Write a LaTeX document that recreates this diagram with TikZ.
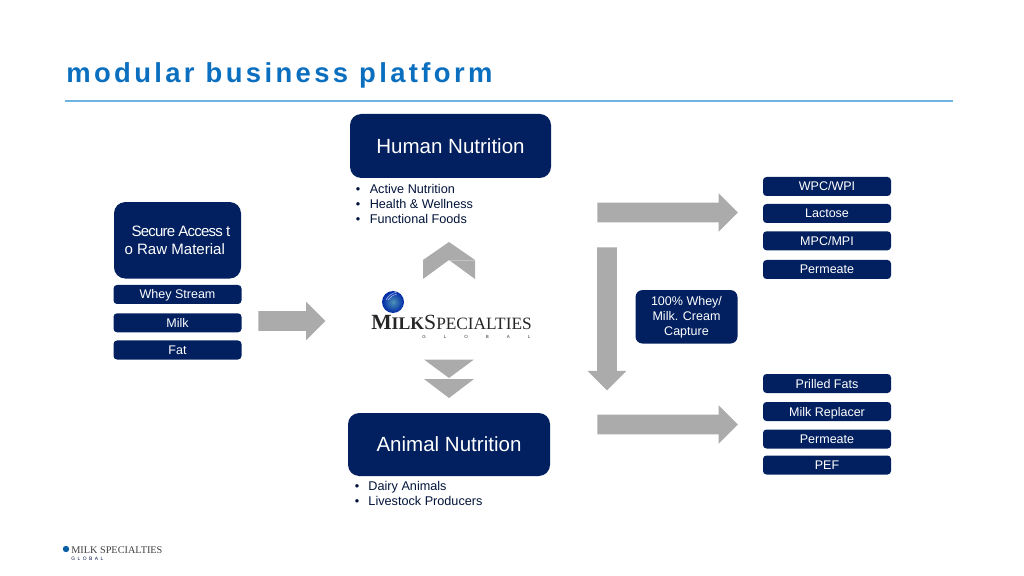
\documentclass[tikz,border=0pt]{standalone}
\usepackage{fontspec}
\setmainfont{Liberation Sans}
\newfontfamily\titlefont[LetterSpace=12.3]{Liberation Sans}
\newfontfamily\logofont{Liberation Serif}
\newfontfamily\wideglobal[LetterSpace=400]{Liberation Sans}
\newfontfamily\smallglobal[LetterSpace=50]{Liberation Sans}
\usepackage{xcolor}
\usetikzlibrary{shapes.arrows}
\definecolor{navybox}{HTML}{02205F}
\definecolor{titleblue}{HTML}{0B6FC0}
\definecolor{ruleblue}{RGB}{110,180,225}
\definecolor{arrowgray}{HTML}{ABABAB}
\def\px{0.025cm}
\tikzset{
    bigbox/.style={fill=navybox, text=white, rounded corners=8pt, inner sep=0pt, font=\fontsize{14.6}{17}\selectfont},
    smallbox/.style={fill=navybox, text=white, rounded corners=2.5pt, inner sep=0pt, minimum width=128*\px, minimum height=19*\px, text height=6.4pt, text depth=0pt, font=\fontsize{8.9}{10}\selectfont},
    bulletlist/.style={anchor=north west, inner sep=0pt, align=left, text=navybox!60!black, font=\fontsize{9}{10.67}\selectfont},
    blockarrow/.style={single arrow, fill=arrowgray, inner xsep=0pt, inner ysep=9.5*\px, minimum width=38*\px, single arrow head extend=9.5*\px, single arrow tip angle=90, anchor=tail}
}

\begin{document}
\begin{tikzpicture}[x=0.025cm, y=-0.025cm]
    \useasboundingbox (0,0) rectangle (1024,576);

    % Title and rule
    \node[anchor=base west, inner sep=0pt, text=titleblue, font=\fontsize{19.5}{26}\selectfont\titlefont\bfseries] (title) at (66,83) {modular business platform};
    \fill[ruleblue] (65,100.5) rectangle (953,101.7);

    % Main boxes
    \node[bigbox, minimum width=201*\px, minimum height=64*\px] (human) at (450.5,146) {Human Nutrition};
    \node[bigbox, minimum width=202*\px, minimum height=63*\px] (animal) at (449,444.5) {Animal Nutrition};
    \node[bigbox, minimum width=127*\px, minimum height=76.5*\px, align=left, font=\fontsize{10.7}{12.8}\selectfont] (secure) at (177.5,240.3) {\hspace{5pt}{\addfontfeature{LetterSpace=-5.5}Secure Access t}\\o Raw Material};
    \node[bigbox, minimum width=102*\px, minimum height=53.5*\px, rounded corners=5pt, align=center, font=\fontsize{8.9}{10.67}\selectfont] (capture) at (686.5,316.8) {100\% Whey/\\Milk. Cream\\Capture};

    % Small boxes
    \foreach \boxname/\x/\y/\boxtext in {whey/177.5/294.5/Whey Stream, milk/177.5/322.8/Milk, fat/177.5/350/Fat,
        wpc/827/186.5/WPC\slash WPI, lactose/827/213.5/Lactose, mpc/827/240.8/MPC\slash MPI, permA/827/269.5/Permeate,
        prilled/827/383.5/Prilled Fats, replacer/827/411.5/Milk Replacer, permB/827/439/Permeate, pef/827/465/PEF} {
        \node[smallbox] (\boxname) at (\x,\y) {\boxtext};
    }

    % Bullet lists
    \node[bulletlist] (humanlist) at (355.5,184) {\textbullet\hspace{6.8pt}Active Nutrition\\\textbullet\hspace{6.8pt}Health \& Wellness\\\textbullet\hspace{6.8pt}Functional Foods};
    \node[bulletlist] (animallist) at (354.5,481) {\textbullet\hspace{6.6pt}Dairy Animals\\\textbullet\hspace{6.6pt}Livestock Producers};

    % Block arrows
    \node[blockarrow, minimum height=67*\px] (inarrow) at (258,321) {};
    \node[blockarrow, minimum height=140.5*\px] (toparrow) at (597,212.5) {};
    \node[blockarrow, minimum height=143*\px, rotate=-90] (downarrow) at (607,247) {};
    \node[blockarrow, minimum height=140.5*\px] (botarrow) at (597,424.5) {};

    % Chevrons around the logo
    \fill[arrowgray] (449,242) -- (475,260) -- (475,279) -- (449,260) -- (423,279) -- (423,260) -- cycle;
    \draw[arrowgray!70!white, line width=0.3pt] (449,260) -- (475,260);
    \fill[arrowgray] (424,359.5) -- (474,359.5) -- (449,378) -- cycle;
    \fill[arrowgray] (424,379) -- (474,379) -- (449,398) -- cycle;

    % Centre logo
    \shade[inner color=blue!35!cyan!60!black!70!white, outer color=blue!75!cyan!65!black, shading=radial] (393,302) circle (11);
    \draw[white!75!blue, line width=0.3pt] (386,300) .. controls (388,296) and (392,293) .. (397,292);
    \draw[white!75!blue, line width=0.3pt] (388,300) .. controls (390,297) and (393,295) .. (397,294);
    \node[anchor=base west, inner sep=0pt, text=black!85, font=\logofont] (logotext) at (371,330) {\bfseries\fontsize{15.4}{16}\selectfont M\fontsize{12.6}{16}\selectfont ILK\mdseries\fontsize{15.4}{16}\selectfont S\fontsize{12.3}{16}\selectfont PECIALTIES};
    \node[anchor=base west, inner sep=0pt, text=black!80, font=\fontsize{3.2}{4}\selectfont\wideglobal] (logoglobal) at (422,338.5) {GLOBAL};

    % Footer logo
    \fill[titleblue!85!black] (66,549) circle (3.2) coordinate (football);
    \node[anchor=base west, inner sep=0pt, text=black!75, font=\fontsize{7.3}{8}\selectfont\logofont] (footlogo) at (71,553) {MILK SPECIALTIES};
    \node[anchor=base west, inner sep=0pt, text=navybox!70!black, font=\fontsize{3.5}{4}\selectfont\smallglobal] (footglobal) at (71,560.5) {GLOBAL};
\end{tikzpicture}
\end{document}
